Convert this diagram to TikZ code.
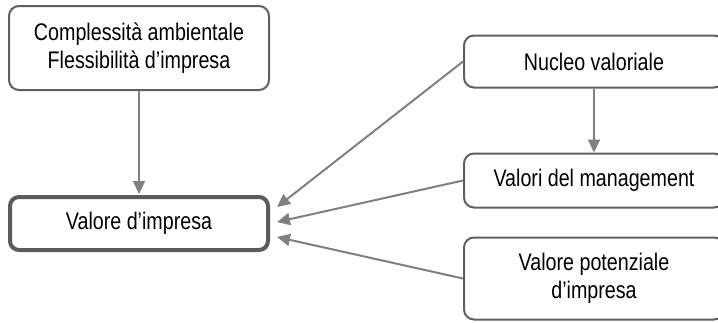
\documentclass[tikz,border=0pt]{standalone}
\usepackage{fontspec}
\setmainfont{Liberation Sans}[FakeStretch=0.82]
\usetikzlibrary{arrows.meta}
\definecolor{boxc}{HTML}{606060}
\definecolor{arrc}{HTML}{808080}
\tikzset{
  box/.style={draw=boxc, line width=2pt, rounded corners=10pt, fill=white, align=center,
    inner sep=0pt, font=\fontsize{24}{28}\selectfont, text=black},
  mainbox/.style={box, line width=4pt, draw=boxc!95!black, rounded corners=9pt},
  conn/.style={draw=arrc, line width=2pt, -{Triangle[length=13pt,width=12pt]}}
}
\begin{document}
\begin{tikzpicture}[x=1pt,y=-1pt]
\useasboundingbox (0,0) rectangle (718,322);
\clip (0,0) rectangle (718,322);
\node[box, minimum width=260pt, minimum height=84pt] (cf) at (139,48) {Complessità ambientale\\Flessibilità d’impresa};
\node[mainbox, minimum width=258pt, minimum height=53pt] (vi) at (139,223.5) {Valore d’impresa};
\node[box, minimum width=260pt, minimum height=52pt] (nv) at (594,61.5) {Nucleo valoriale};
\node[box, minimum width=260pt, minimum height=54pt] (vm) at (594,180.5) {Valori del management};
\node[box, minimum width=260pt, minimum height=82pt] (vp) at (594,278.5) {Valore potenziale\\d’impresa};
\coordinate (t1) at (277,207);
\coordinate (t2) at (277,222);
\coordinate (t3) at (277,237);
\coordinate (t0) at (139,194);
\draw[conn] (cf.south) -- (t0);
\draw[conn] (nv.south) -- (vm.north);
\draw[conn] (nv.west) -- (t1);
\draw[conn] (vm.west) -- (t2);
\draw[conn] (vp.west) -- (t3);
\end{tikzpicture}
\end{document}
